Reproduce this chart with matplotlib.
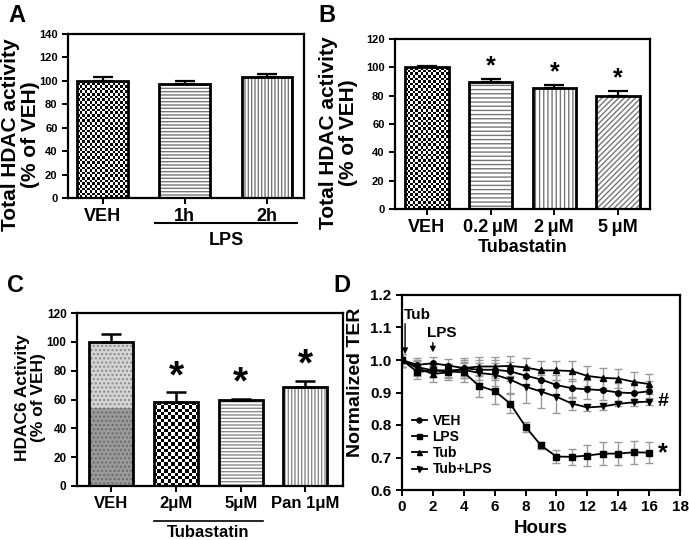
import numpy as np
import matplotlib
matplotlib.use("Agg")
import matplotlib.pyplot as plt
from matplotlib.patches import Rectangle
from matplotlib.colors import ListedColormap
import matplotlib.transforms as mtransforms

plt.rcParams['font.family'] = ['Liberation Sans', 'DejaVu Sans']
plt.rcParams['font.weight'] = 'bold'
plt.rcParams['axes.linewidth'] = 1.6
plt.rcParams['hatch.linewidth'] = 1.0

# ---------------- data ----------------
a_labels = ["VEH", "1h", "2h"]
a_vals = [100.0, 97.5, 103.5]
a_err = [3.0, 2.5, 2.5]

b_labels = ["VEH", "0.2\u2009\u03bcM", "2\u2009\u03bcM", "5\u2009\u03bcM"]
b_vals = [100.0, 90.0, 85.5, 80.0]
b_err = [1.0, 2.0, 2.0, 3.0]
b_sig = [False, True, True, True]

c_labels = ["VEH", "2\u03bcM", "5\u03bcM", "Pan 1\u03bcM"]
c_vals = [100.0, 58.0, 59.5, 69.0]
c_err = [5.5, 7.0, 1.0, 4.0]
c_sig = [False, True, True, True]
c_veh_split = 54.0

d_hours = list(range(17))
d_veh = [1.0, 0.985, 0.99, 0.983, 0.975, 0.97, 0.97, 0.965, 0.952, 0.94, 0.923,
         0.913, 0.91, 0.907, 0.90, 0.898, 0.904]
d_veh_err = [0.02, 0.02, 0.02, 0.02, 0.025, 0.03, 0.03, 0.03, 0.03, 0.03, 0.03,
             0.03, 0.03, 0.03, 0.03, 0.03, 0.03]
d_lps = [1.0, 0.963, 0.968, 0.965, 0.962, 0.92, 0.905, 0.866, 0.795, 0.737, 0.703,
         0.702, 0.706, 0.712, 0.712, 0.716, 0.715]
d_lps_err = [0.02, 0.02, 0.02, 0.02, 0.03, 0.035, 0.04, 0.03, 0.015, 0.012, 0.02,
             0.025, 0.032, 0.035, 0.035, 0.035, 0.033]
d_tub = [1.0, 0.975, 0.957, 0.962, 0.975, 0.98, 0.98, 0.982, 0.977, 0.968, 0.968,
         0.966, 0.951, 0.945, 0.943, 0.933, 0.926]
d_tub_err = [0.02, 0.025, 0.025, 0.025, 0.03, 0.03, 0.03, 0.03, 0.03, 0.03, 0.03,
             0.03, 0.03, 0.03, 0.03, 0.03, 0.03]
d_tl = [1.0, 0.978, 0.968, 0.968, 0.97, 0.96, 0.955, 0.94, 0.918, 0.903, 0.887,
        0.866, 0.854, 0.857, 0.865, 0.87, 0.872]
d_tl_err = [0.02, 0.02, 0.02, 0.02, 0.025, 0.03, 0.035, 0.04, 0.05, 0.05, 0.05,
            0.02, 0.01, 0.01, 0.008, 0.01, 0.01]

W, H = 689, 540
fig = plt.figure(figsize=(W / 100, H / 100), dpi=100)


def add_ax(l, r, t, b):
    return fig.add_axes([l / W, 1 - b / H, (r - l) / W, (b - t) / H])


def checker(ax, bar, cell_px, zorder=2, light='white', dark='black'):
    x0, y0 = bar.get_x(), bar.get_y()
    w, h = bar.get_width(), bar.get_height()
    p0 = ax.transData.transform((x0, y0))
    p1 = ax.transData.transform((x0 + w, y0 + h))
    nc = max(1, int(round(abs(p1[0] - p0[0]) / cell_px)))
    nr = max(1, int(round(abs(p1[1] - p0[1]) / cell_px)))
    ii, jj = np.indices((nr, nc))
    arr = (ii + jj) % 2
    im = ax.imshow(arr, extent=(x0, x0 + w, y0, y0 + h), cmap=ListedColormap([light, dark]),
                   interpolation='nearest', aspect='auto', zorder=zorder, origin='lower')
    im.set_clip_path(bar)


def hatched_bars(ax, x, vals, width, hatches, faces, hcolor='#777777'):
    bars = []
    for xi, v, hch, fc in zip(x, vals, hatches, faces):
        b = ax.bar(xi, v, width, color=fc, edgecolor=hcolor, hatch=hch, linewidth=0, zorder=2)[0]
        bars.append(b)
    ax.bar(x, vals, width, facecolor='none', edgecolor='black', linewidth=2.0, zorder=4)
    return bars


def style_ax(ax):
    ax.tick_params(axis='both', direction='out', width=1.4, length=4)
    for s in ax.spines.values():
        s.set_linewidth(1.6)


# ---------------- Panel A ----------------
axA = add_ax(68, 304, 34, 198)
xa = np.arange(3)
axA.set_xlim(-0.42, 2.45)
axA.set_ylim(0, 140)
barsA = hatched_bars(axA, xa, a_vals, 0.62, [None, '-----', '|||||'], ['white', 'white', 'white'])
checker(axA, barsA[0], 2.6)
axA.set_xlim(-0.42, 2.45)
axA.set_ylim(0, 140)
axA.errorbar(xa, a_vals, yerr=[np.zeros(3), a_err], fmt='none', ecolor='black',
             elinewidth=1.6, capsize=7, capthick=1.6, zorder=3)
axA.set_yticks(np.arange(0, 141, 20))
axA.set_xticks(xa)
axA.set_xticklabels(a_labels, fontsize=13, fontweight='bold')
for t in axA.get_yticklabels():
    t.set_fontsize(8); t.set_fontweight('bold')
style_ax(axA)
axA.set_ylabel("Total HDAC activity\n(% of VEH)", fontsize=15, fontweight='bold', linespacing=1.05)
axA.yaxis.set_label_coords(-0.12, 0.385)
trA = mtransforms.blended_transform_factory(axA.transData, axA.transAxes)
axA.plot([1 - 0.36, 2 + 0.36], [-0.152, -0.152], color='black', lw=1.5, transform=trA, clip_on=False)
axA.text(1.5, -0.26, "LPS", transform=trA, ha='center', va='center', fontsize=13, fontweight='bold')
fig.text(8 / W, 1 - 15 / H, "A", fontsize=17, fontweight='bold', va='center')

# ---------------- Panel B ----------------
axB = add_ax(395, 650, 39, 209)
xb = np.arange(4)
axB.set_xlim(-0.5, 3.5)
axB.set_ylim(0, 120)
barsB = hatched_bars(axB, xb, b_vals, 0.68, [None, '----', '||||', '//////'], ['white'] * 4)
checker(axB, barsB[0], 2.6)
axB.set_xlim(-0.5, 3.5)
axB.set_ylim(0, 120)
axB.errorbar(xb, b_vals, yerr=[np.zeros(4), b_err], fmt='none', ecolor='black',
             elinewidth=1.6, capsize=7, capthick=1.6, zorder=3)
for xi, v, e, s in zip(xb, b_vals, b_err, b_sig):
    if s:
        axB.text(xi, v + e + 0.5, "*", ha='center', va='bottom', fontsize=18, fontweight='bold')
axB.set_yticks(np.arange(0, 121, 20))
axB.set_xticks(xb)
axB.set_xticklabels(b_labels, fontsize=13, fontweight='bold')
for t in axB.get_yticklabels():
    t.set_fontsize(8); t.set_fontweight('bold')
style_ax(axB)
axB.set_xlabel("Tubastatin", fontsize=13, fontweight='bold', labelpad=2)
axB.set_ylabel("Total HDAC activity\n(% of VEH)", fontsize=15, fontweight='bold', linespacing=1.05)
axB.yaxis.set_label_coords(-0.145, 0.45)
fig.text(318 / W, 1 - 15 / H, "B", fontsize=17, fontweight='bold', va='center')

# ---------------- Panel C ----------------
axC = add_ax(77, 343, 313, 486)
xc = np.arange(4)
axC.set_xlim(-0.53, 3.58)
axC.set_ylim(0, 120)
barsC = hatched_bars(axC, xc, c_vals, 0.68, ['....', None, '-----', '|||||'],
                     ['#d4d4d4', 'white', 'white', 'white'], hcolor='#8a8a8a')
lowC = Rectangle((xc[0] - 0.34, 0), 0.68, c_veh_split, facecolor='#9a9a9a', edgecolor='#6a6a6a',
                 hatch='....', linewidth=0, zorder=2.5)
axC.add_patch(lowC)
checker(axC, barsC[1], 3.3)
axC.set_xlim(-0.53, 3.58)
axC.set_ylim(0, 120)
axC.errorbar(xc, c_vals, yerr=[np.zeros(4), c_err], fmt='none', ecolor='black',
             elinewidth=1.8, capsize=7, capthick=1.8, zorder=3)
for xi, v, e, s in zip(xc, c_vals, c_err, c_sig):
    if s:
        axC.text(xi, v + e - 2, "*", ha='center', va='bottom', fontsize=28, fontweight='bold')
axC.set_yticks(np.arange(0, 121, 20))
axC.set_xticks(xc)
axC.set_xticklabels(c_labels, fontsize=12, fontweight='bold')
for t in axC.get_yticklabels():
    t.set_fontsize(8.5); t.set_fontweight('bold')
style_ax(axC)
axC.set_ylabel("HDAC6 Activity\n(% of VEH)", fontsize=12.5, fontweight='bold', linespacing=1.15)
axC.yaxis.set_label_coords(-0.115, 0.51)
trC = mtransforms.blended_transform_factory(axC.transData, axC.transAxes)
axC.plot([1 - 0.34, 2 + 0.34], [-0.203, -0.203], color='black', lw=1.2, transform=trC, clip_on=False)
axC.text(1.5, -0.27, "Tubastatin", transform=trC, ha='center', va='center', fontsize=12, fontweight='bold')
fig.text(7 / W, 1 - 286 / H, "C", fontsize=17, fontweight='bold', va='center')

# ---------------- Panel D ----------------
axD = add_ax(402, 680, 295, 490)
series = [(d_veh, d_veh_err, 'o', 'VEH'), (d_lps, d_lps_err, 's', 'LPS'),
          (d_tub, d_tub_err, '^', 'Tub'), (d_tl, d_tl_err, 'v', 'Tub+LPS')]
for vals, errs, mk, lab in series:
    axD.errorbar(d_hours, vals, yerr=errs, fmt='none', ecolor='#9a9a9a', elinewidth=1.0,
                 capsize=3, capthick=1.0, zorder=2)
for vals, errs, mk, lab in series:
    axD.plot(d_hours, vals, color='black', lw=1.3, marker=mk, markersize=4, label=lab, zorder=3)
axD.set_xlim(0, 18)
axD.set_ylim(0.6, 1.2)
axD.set_xticks(np.arange(0, 19, 2))
axD.set_yticks(np.round(np.arange(0.6, 1.21, 0.1), 1))
axD.set_yticklabels(["0.6", "0.7", "0.8", "0.9", "1.0", "1.1", "1.2"])
for t in axD.get_xticklabels() + axD.get_yticklabels():
    t.set_fontsize(11); t.set_fontweight('bold')
style_ax(axD)
axD.set_xlabel("Hours", fontsize=13.5, fontweight='bold', labelpad=4)
axD.set_ylabel("Normalized TER", fontsize=14, fontweight='bold')
axD.yaxis.set_label_coords(-0.137, 0.55)
leg = axD.legend(loc='lower left', bbox_to_anchor=(0.0, 0.02), frameon=False,
                 handlelength=1.1, handletextpad=0.4, labelspacing=0.15, borderaxespad=0.3,
                 markerscale=0.9, prop={'weight': 'bold', 'size': 10})
axD.text(0.15, 1.138, "Tub", fontsize=11, fontweight='bold', va='center', ha='left')
axD.annotate("", xy=(0.2, 1.01), xytext=(0.2, 1.12),
             arrowprops=dict(arrowstyle='-|>', color='black', lw=1.0, mutation_scale=8))
axD.text(2.6, 1.082, "LPS", fontsize=11, fontweight='bold', va='center', ha='center')
axD.annotate("", xy=(2.0, 1.015), xytext=(2.0, 1.062),
             arrowprops=dict(arrowstyle='-|>', color='black', lw=1.0, mutation_scale=8))
axD.text(16.9, 0.872, "#", fontsize=14, fontweight='bold', va='center', ha='center')
axD.text(16.9, 0.713, "*", fontsize=18, fontweight='bold', va='center', ha='center')
fig.text(333 / W, 1 - 286 / H, "D", fontsize=17, fontweight='bold', va='center')

fig.savefig("out.png", dpi=100)
